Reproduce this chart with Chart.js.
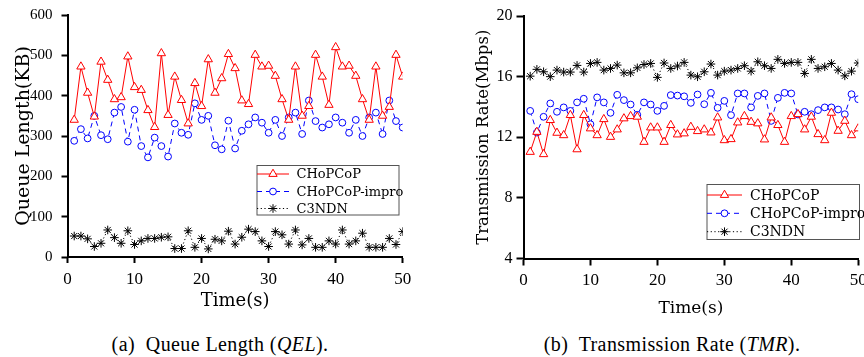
<!DOCTYPE html>
<html>
<head>
<meta charset="utf-8">
<script src="https://cdn.jsdelivr.net/npm/chart.js@4.4.1/dist/chart.umd.min.js"></script>
<style>
  html, body { margin: 0; padding: 0; background: #fff; }
  #wrap { position: relative; width: 864px; height: 357px; overflow: hidden; background: #fff; }
  canvas { position: absolute; top: 0; }
  #c1 { left: 0; }
  #c2 { left: 440px; }
  .cap { position: absolute; top: 333px; font-family: "Liberation Serif", "Times New Roman", serif; font-size: 20px; color: #000; white-space: nowrap; transform: translateX(-50%); letter-spacing: 0.4px; }
</style>
</head>
<body>
<div id="wrap">
  <canvas id="c1" width="440" height="320"></canvas>
  <canvas id="c2" width="424" height="320"></canvas>
  <div class="cap" style="left:220px">(a)&nbsp; Queue Length (<i>QEL</i>).</div>
  <div class="cap" style="left:672px">(b)&nbsp; Transmission Rate (<i>TMR</i>).</div>
</div>
<script>
// ---- data ----
const time = [1,2,3,4,5,6,7,8,9,10,11,12,13,14,15,16,17,18,19,20,21,22,23,24,25,26,27,28,29,30,31,32,33,34,35,36,37,38,39,40,41,42,43,44,45,46,47,48,49,50];
const seriesNames = ["CHoPCoP", "CHoPCoP-impro", "C3NDN"];

// Queue length (KB)
const qelCHoPCoP = [340,472,407,348,484,439,391,396,497,421,414,364,322,505,352,447,389,331,431,374,490,407,443,503,468,388,379,501,472,474,449,391,340,472,350,374,501,447,377,520,472,474,449,391,340,472,350,372,501,447];
const qelImpro   = [288,317,294,350,302,292,358,372,286,365,275,247,296,275,249,331,308,303,381,340,350,277,267,338,269,313,329,346,333,308,340,300,346,358,305,388,337,321,329,346,333,308,340,300,346,358,305,388,337,321];
const qelC3NDN   = [52,52,45,26,34,67,48,34,65,31,40,46,46,49,50,21,21,65,24,46,20,44,40,64,32,49,69,63,40,26,63,55,32,67,30,46,24,24,40,32,67,32,40,59,24,24,24,46,31,63];

// Transmission rate (Mbps)
const tmrCHoPCoP = [11.03,12.35,10.88,13.13,12.29,12.13,13.46,11.2,13.46,12.58,12.13,13.19,12.02,12.51,13.24,13.39,13.35,11.69,12.64,12.64,11.69,12.8,12.18,12.25,12.68,12.4,12.51,12.31,13.3,11.8,11.87,12.97,13.39,13.01,12.91,11.85,13.3,12.8,11.69,13.39,13.52,12.51,13.35,12.2,11.8,13.61,12.42,13.08,12.13,12.58];
const tmrImpro   = [13.74,12.31,13.35,14.23,13.68,13.97,13.74,14.3,14.54,12.86,14.63,14.3,13.61,14.8,14.45,14.16,13.48,14.3,14.16,13.74,14.07,14.78,14.75,14.7,14.27,14.82,14.18,14.93,13.94,14.4,13.46,14.89,14.89,13.97,14.73,14.89,13.08,14.6,14.93,14.89,13.5,13.68,13.52,13.79,13.97,13.97,13.83,13.52,14.84,14.51];
const tmrC3NDN   = [16.03,16.48,16.32,16.0,16.43,16.3,16.3,16.74,16.3,16.87,16.94,16.43,16.54,16.76,16.25,16.25,16.58,16.8,16.87,15.95,16.9,16.54,16.7,16.94,16.1,15.99,16.32,16.83,16.1,16.36,16.43,16.54,16.72,16.36,16.98,16.72,16.54,17.14,16.87,16.94,16.94,16.21,17.14,16.54,16.65,16.87,16.43,16.05,16.36,16.9];

const xTicks = [0,10,20,30,40,50];
const qelTicks = [0,100,200,300,400,500,600];
const tmrTicks = [4,8,12,16,20];

// ---- helpers ----
function pts(vals) { return time.map((t, i) => ({ x: t, y: vals[i] })); }

const styles = [
  { borderColor: '#ff0000', pointStyle: 'triangle', pointRadius: 4.8, borderDash: [] , pointBackgroundColor: '#ffffff'},
  { borderColor: '#0000ff', pointStyle: 'circle', pointRadius: 3.4, borderDash: [5, 4], pointBackgroundColor: '#ffffff'},
  { borderColor: '#000000', pointStyle: 'star', pointRadius: 4.3, borderDash: [1.2, 2.5], pointBackgroundColor: '#ffffff'}
];

function makeDatasets(arrs) {
  return arrs.map((a, i) => ({
    label: seriesNames[i],
    data: pts(a),
    borderColor: styles[i].borderColor,
    backgroundColor: styles[i].borderColor,
    borderWidth: 1,
    borderDash: styles[i].borderDash,
    pointStyle: styles[i].pointStyle,
    pointRadius: styles[i].pointRadius,
    pointHoverRadius: styles[i].pointRadius,
    pointBorderColor: styles[i].borderColor,
    pointBackgroundColor: styles[i].pointBackgroundColor,
    pointBorderWidth: 1,
    tension: 0,
    fill: false
  }));
}

function marker(ctx, style, x, y, r) {
  ctx.beginPath();
  if (style === 'triangle') {
    let rad = 0;
    ctx.moveTo(x + Math.sin(rad) * r, y - Math.cos(rad) * r);
    rad += 2 * Math.PI / 3;
    ctx.lineTo(x + Math.sin(rad) * r, y - Math.cos(rad) * r);
    rad += 2 * Math.PI / 3;
    ctx.lineTo(x + Math.sin(rad) * r, y - Math.cos(rad) * r);
    ctx.closePath();
    ctx.fill(); ctx.stroke();
  } else if (style === 'circle') {
    ctx.arc(x, y, r, 0, Math.PI * 2);
    ctx.closePath();
    ctx.fill(); ctx.stroke();
  } else {
    for (let k = 0; k < 4; k++) {
      const a = k * Math.PI / 4;
      ctx.moveTo(x - Math.cos(a) * r, y - Math.sin(a) * r);
      ctx.lineTo(x + Math.cos(a) * r, y + Math.sin(a) * r);
    }
    ctx.stroke();
  }
}

const boxLegend = {
  id: 'boxLegend',
  afterDraw(chart, args, o) {
    const ctx = chart.ctx;
    ctx.save();
    ctx.setLineDash([]);
    ctx.fillStyle = '#ffffff';
    ctx.fillRect(o.x1, o.y1, o.x2 - o.x1, o.y2 - o.y1);
    ctx.strokeStyle = '#555555';
    ctx.lineWidth = 1;
    ctx.strokeRect(o.x1 + 0.5, o.y1 + 0.5, o.x2 - o.x1 - 1, o.y2 - o.y1 - 1);
    chart.data.datasets.forEach((ds, i) => {
      const y = o.rows[i];
      ctx.strokeStyle = ds.borderColor;
      ctx.lineWidth = 1;
      ctx.setLineDash(ds.borderDash || []);
      ctx.beginPath();
      ctx.moveTo(o.lx1, y);
      ctx.lineTo(o.lx2, y);
      ctx.stroke();
      ctx.setLineDash([]);
      ctx.fillStyle = ds.pointBackgroundColor;
      marker(ctx, ds.pointStyle, (o.lx1 + o.lx2) / 2, y, ds.pointRadius);
      ctx.fillStyle = '#000';
      ctx.font = o.font;
      ctx.textBaseline = 'middle';
      ctx.textAlign = 'left';
      ctx.fillText(ds.label, o.tx, y + 1);
    });
    ctx.restore();
  }
};

function makeChart(id, cfg) {
  const ctx = document.getElementById(id);
  return new Chart(ctx, {
    type: 'line',
    data: { datasets: makeDatasets(cfg.arrs) },
    plugins: [boxLegend],
    options: {
      responsive: false,
      animation: false,
      devicePixelRatio: 1,
      events: [],
      layout: { padding: cfg.padding },
      plugins: {
        legend: { display: false },
        tooltip: { enabled: false },
        title: { display: false },
        boxLegend: cfg.legend
      },
      scales: {
        x: {
          type: 'linear',
          min: 0, max: 50,
          afterBuildTicks: s => { s.ticks = xTicks.map(v => ({ value: v })); },
          afterFit: s => { s.height = cfg.xHeight; s.paddingLeft = 0; s.paddingRight = 0; },
          border: { display: true, color: '#000', width: 2 },
          grid: { display: true, drawOnChartArea: false, drawTicks: true, tickLength: cfg.xTickLen, tickWidth: 2, tickColor: '#000', color: '#000' },
          ticks: { color: '#000', padding: cfg.xTickPad, maxRotation: 0, autoSkip: false, font: { family: 'Liberation Serif', size: cfg.xTickSize } },
          title: { display: true, text: 'Time(s)', color: '#000', font: { family: 'DejaVu Serif', size: cfg.xTitleSize, lineHeight: 1 }, padding: { top: 0, bottom: cfg.xTitlePad } }
        },
        y: {
          type: 'linear',
          min: cfg.yMin, max: cfg.yMax,
          afterBuildTicks: s => { s.ticks = cfg.yTicks.map(v => ({ value: v })); },
          afterFit: s => { s.width = cfg.yWidth; s.paddingTop = 0; s.paddingBottom = 0; },
          border: { display: true, color: '#000', width: 2 },
          grid: { display: true, drawOnChartArea: false, drawTicks: true, tickLength: cfg.yTickLen, tickWidth: 2, tickColor: '#000', color: '#000' },
          ticks: { color: '#000', padding: cfg.yTickPad, autoSkip: false, font: { family: 'Liberation Serif', size: cfg.yTickSize } },
          title: { display: true, text: cfg.yTitle, color: '#000', font: { family: 'DejaVu Serif', size: cfg.yTitleSize, lineHeight: 1 }, padding: { top: cfg.yTitlePad, bottom: 0 } }
        }
      }
    }
  });
}

makeChart('c1', {
  arrs: [qelCHoPCoP, qelImpro, qelC3NDN],
  padding: { top: 15, left: 0, right: 37.3, bottom: 0 },
  xHeight: 63, yWidth: 67.5,
  xTickLen: 6, xTickPad: 6, xTickSize: 17,
  yTickLen: 6, yTickPad: 9, yTickSize: 15,
  xTitleSize: 18, xTitlePad: 10,
  yTitle: 'Queue Length(KB)', yTitleSize: 19, yTitlePad: 14.5,
  yMin: 0, yMax: 600, yTicks: qelTicks,
  legend: { x1: 256.5, y1: 165, x2: 399.5, y2: 215.5, lx1: 257, lx2: 289, tx: 296.5, rows: [174, 191.5, 208.5], font: '13px "DejaVu Serif"' }
});

makeChart('c2', {
  arrs: [tmrCHoPCoP, tmrImpro, tmrC3NDN],
  padding: { top: 16, left: 0, right: 5.5, bottom: 0 },
  xHeight: 61.5, yWidth: 83.5,
  xTickLen: 7, xTickPad: 5, xTickSize: 17,
  yTickLen: 7, yTickPad: 4, yTickSize: 16,
  xTitleSize: 17, xTitlePad: 2.5,
  yTitle: 'Transmission Rate(Mbps)', yTitleSize: 16.5, yTitlePad: 35,
  yMin: 4, yMax: 20, yTicks: tmrTicks,
  legend: { x1: 266.5, y1: 184, x2: 420, y2: 240, lx1: 267, lx2: 302, tx: 310, rows: [195, 213.3, 231.7], font: '14px "DejaVu Serif"' }
});
</script>
</body>
</html>
